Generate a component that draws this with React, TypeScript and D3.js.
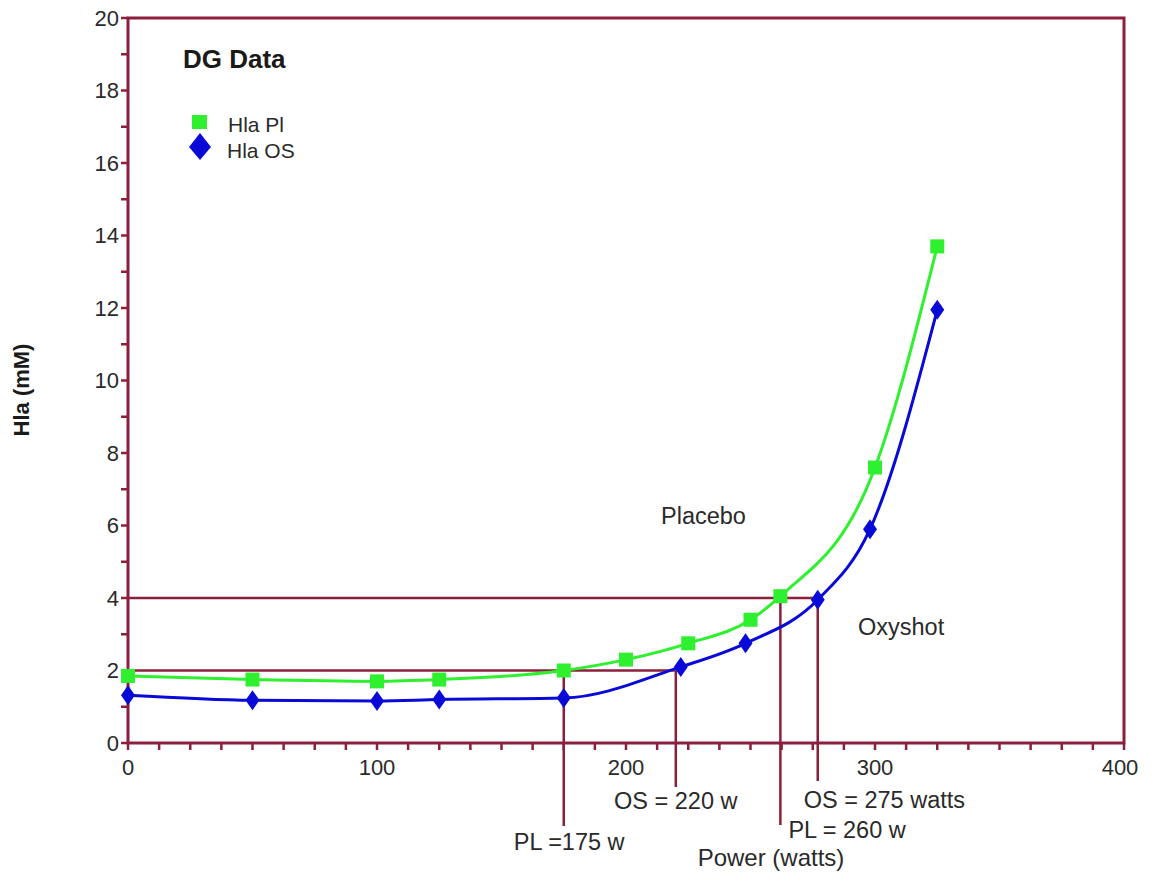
import React from "react";
import * as d3 from "d3";

const W = 1159;
const H = 873;

const plX = [0, 50, 100, 125, 175, 200, 225, 250, 262, 300, 325];
const plY = [1.85, 1.75, 1.7, 1.75, 2.0, 2.3, 2.75, 3.4, 4.05, 7.6, 13.7];
const osX = [0, 50, 100, 125, 175, 222, 248, 277, 298, 325];
const osY = [1.32, 1.18, 1.16, 1.2, 1.24, 2.1, 2.75, 3.95, 5.9, 11.95];

const xMajorTicks = [0, 100, 200, 300, 400];
const yMajorTicks = [0, 2, 4, 6, 8, 10, 12, 14, 16, 18, 20];

// threshold annotations
const thresholdX = [175, 220, 262, 277];
const thresholdY = [2, 2, 4, 4];
const thresholdLabels = ["PL =175 w", "OS = 220 w", "PL = 260 w", "OS = 275 watts"];
const hLineY = [2, 4];
const hLineXEnd = [220, 277];

const MAROON = "#8c1f3c";
const GREEN = "#2ef02e";
const BLUE = "#0a0ad8";
const FONT = "Liberation Sans, Arial, sans-serif";
const TXT = "#2a2a2a";

export default function App() {
  const x = d3.scaleLinear().domain([0, 400]).range([128, 1124]);
  const y = d3.scaleLinear().domain([0, 20]).range([743, 18]);

  const line = d3
    .line<[number, number]>()
    .x((d) => x(d[0]))
    .y((d) => y(d[1]))
    .curve(d3.curveMonotoneX);

  const plData = plX.map((v, i) => [v, plY[i]] as [number, number]);
  const osData = osX.map((v, i) => [v, osY[i]] as [number, number]);

  const xMinor = d3.range(0, 400.01, 12.5);
  const yMinor = d3.range(0, 20.01, 1);

  const labelPos = [
    { dx: -50, ty: 850, anchor: "start", bottom: 826 },
    { dx: 0, ty: 809, anchor: "middle", bottom: 787 },
    { dx: 8, ty: 838, anchor: "start", bottom: 825 },
    { dx: -14, ty: 808, anchor: "start", bottom: 781 },
  ];

  return (
    <svg
      width={W}
      height={H}
      style={{ position: "absolute", left: 0, top: 0, background: "#fff" }}
    >
      <rect x={0} y={0} width={W} height={H} fill="#fff" />
      {/* frame */}
      <rect
        x={x(0)}
        y={y(20)}
        width={x(400) - x(0)}
        height={y(0) - y(20)}
        fill="none"
        stroke={MAROON}
        strokeWidth={3}
      />
      {/* y ticks */}
      {yMinor.map((t) => (
        <line key={"yt" + t} x1={x(0) - 7} x2={x(0)} y1={y(t)} y2={y(t)} stroke={MAROON} strokeWidth={2.5} />
      ))}
      {yMajorTicks.map((t) => (
        <text
          key={"yl" + t}
          x={x(0) - 9}
          y={y(t)}
          dy="0.36em"
          textAnchor="end"
          fontFamily={FONT}
          fontSize={22}
          fill={TXT}
        >
          {t}
        </text>
      ))}
      {/* x ticks */}
      {xMinor.map((t) => (
        <line key={"xt" + t} x1={x(t)} x2={x(t)} y1={y(0)} y2={y(0) + 7} stroke={MAROON} strokeWidth={2.5} />
      ))}
      {xMajorTicks.map((t) => (
        <text
          key={"xl" + t}
          x={x(t) - (t === 400 ? 4 : 0)}
          y={775}
          textAnchor="middle"
          fontFamily={FONT}
          fontSize={22}
          fill={TXT}
        >
          {t}
        </text>
      ))}
      {/* reference horizontal lines */}
      {hLineY.map((v, i) => (
        <line key={"h" + i} x1={x(0)} x2={x(hLineXEnd[i])} y1={y(v)} y2={y(v)} stroke={MAROON} strokeWidth={2.5} />
      ))}
      {/* reference vertical lines + labels */}
      {thresholdX.map((v, i) => (
        <g key={"v" + i}>
          <line x1={x(v)} x2={x(v)} y1={y(thresholdY[i])} y2={labelPos[i].bottom} stroke={MAROON} strokeWidth={2.5} />
          <text
            x={x(v) + labelPos[i].dx}
            y={labelPos[i].ty}
            textAnchor={labelPos[i].anchor as any}
            fontFamily={FONT}
            fontSize={23.5}
            fill={TXT}
          >
            {thresholdLabels[i]}
          </text>
        </g>
      ))}
      {/* curves */}
      <path d={line(plData) || ""} fill="none" stroke={GREEN} strokeWidth={3} />
      <path d={line(osData) || ""} fill="none" stroke={BLUE} strokeWidth={3} />
      {plData.map((d, i) => (
        <rect key={"p" + i} x={x(d[0]) - 7} y={y(d[1]) - 7} width={14} height={14} fill={GREEN} />
      ))}
      {osData.map((d, i) => (
        <path
          key={"o" + i}
          d={`M${x(d[0])},${y(d[1]) - 10}L${x(d[0]) + 7},${y(d[1])}L${x(d[0])},${y(d[1]) + 10}L${x(d[0]) - 7},${y(d[1])}Z`}
          fill={BLUE}
        />
      ))}
      {/* title & legend */}
      <text x={183} y={68} fontFamily={FONT} fontSize={26} fontWeight="bold" fill="#1a1a1a">
        DG Data
      </text>
      <rect x={192} y={115} width={15} height={14} fill={GREEN} />
      <text x={228} y={132} fontFamily={FONT} fontSize={21} fill={TXT}>
        Hla Pl
      </text>
      <path d="M200,133L211,147L200,160L189,147Z" fill={BLUE} />
      <text x={227} y={158} fontFamily={FONT} fontSize={21} fill={TXT}>
        Hla OS
      </text>
      {/* annotations */}
      <text x={661} y={524} fontFamily={FONT} fontSize={23.5} fill={TXT}>
        Placebo
      </text>
      <text x={858} y={635} fontFamily={FONT} fontSize={23.5} fill={TXT}>
        Oxyshot
      </text>
      {/* axis titles */}
      <text x={771} y={866} textAnchor="middle" fontFamily={FONT} fontSize={24} fill={TXT}>
        Power (watts)
      </text>
      <text
        transform="translate(29,390) rotate(-90)"
        textAnchor="middle"
        fontFamily={FONT}
        fontSize={22}
        fontWeight="bold"
        fill="#1a1a1a"
      >
        Hla (mM)
      </text>
    </svg>
  );
}
